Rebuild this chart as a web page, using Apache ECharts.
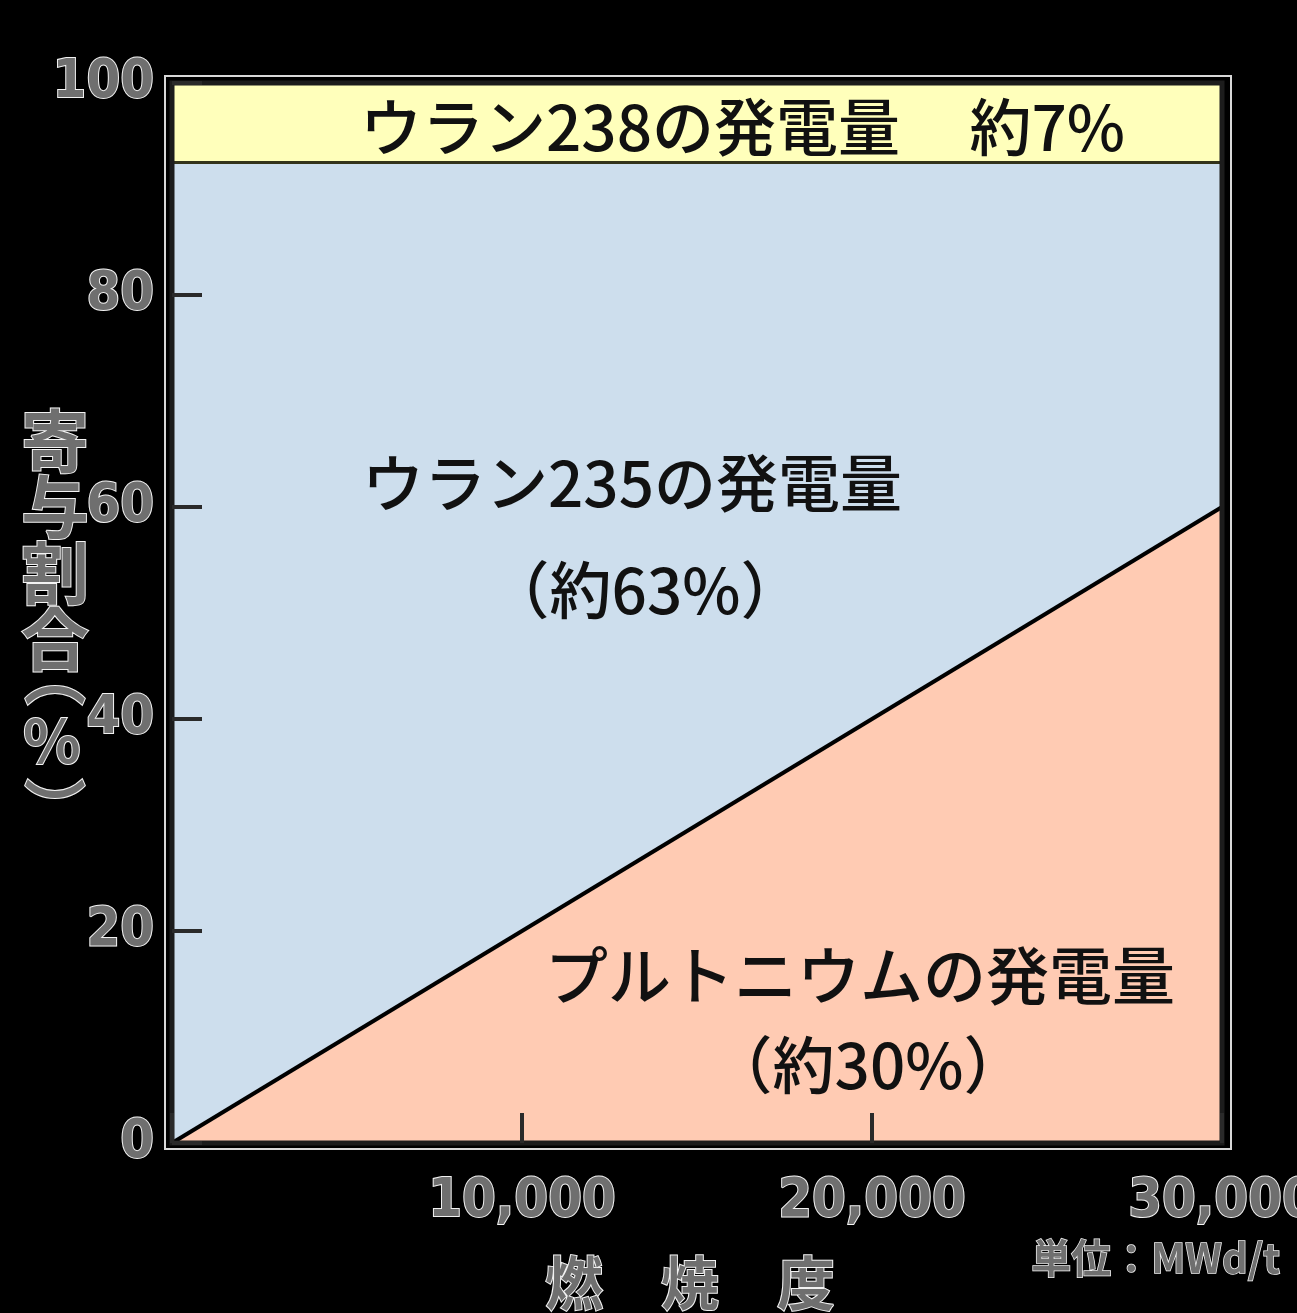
<!DOCTYPE html>
<html>
<head>
<meta charset="utf-8">
<script src="https://cdn.jsdelivr.net/npm/echarts@6/dist/echarts.min.js"></script>
<style>
html,body{margin:0;padding:0;background:#000;}
#chart{width:1297px;height:1313px;}
</style>
</head>
<body>
<div id="chart"></div>
<script>
// ---- data ----
const burnup = [0, 30000];            // MWd/t
const plutoniumShare = [0, 60];       // % (top of Pu area)
const u235Top = [92.5, 92.5];         // % (top of U-235 area)
const u238Top = [100, 100];           // % (top of U-238 band)
const yTicks = [0, 20, 40, 60, 80, 100];
const xTicks = [10000, 20000, 30000];

const yAxisTitle = ['寄', '与', '割', '合'];
const yAxisUnit = ['︵', '%', '︶'];
const xAxisTitle = '燃　焼　度';
const unitText = '単位：MWd/t';
const labelU238 = 'ウラン238の発電量';
const labelU238Pct = '約7%';
const labelU235 = 'ウラン235の発電量';
const labelU235Pct = '（約63%）';
const labelPu = 'プルトニウムの発電量';
const labelPuPct = '（約30%）';

const narrow = "'Liberation Sans Narrow','DejaVu Sans Condensed','Liberation Sans',sans-serif";
const jp = "'Noto Sans CJK JP','Noto Sans CJK SC',sans-serif";

function pts(xs, ys){ return xs.map((x,i)=>[x, ys[i]]); }

const outlined = {
  color:'#6f6f6f', textBorderColor:'#f2f2f2', textBorderWidth:2
};
const outlinedG = {fill:'#6f6f6f', stroke:'#f2f2f2', lineWidth:2};

const chart = echarts.init(document.getElementById('chart'), null, {renderer:'canvas'});
chart.setOption({
  backgroundColor:'#000',
  animation:false,
  grid:{left:172, right:75, top:83, bottom:170, outerBoundsMode:'none', containLabel:false,
        show:true, borderColor:'#1c1c1c', borderWidth:5, backgroundColor:'transparent', z:5},
  xAxis:{
    type:'value', min:0, max:30000, interval:10000, z:10,
    axisLine:{show:false},
    axisTick:{show:true, inside:true, length:30, lineStyle:{color:'#2a2a2a', width:4}},
    splitLine:{show:false},
    axisLabel:{
      show:true, margin:32, fontFamily:narrow, fontSize:54, fontWeight:'bold',
      ...outlined,
      formatter:v => v === 0 ? '' : v.toLocaleString('en-US')
    }
  },
  yAxis:{
    type:'value', min:0, max:100, interval:20, z:10,
    axisLine:{show:false},
    axisTick:{show:true, inside:true, length:30, lineStyle:{color:'#2a2a2a', width:4}},
    splitLine:{show:false},
    axisLabel:{
      show:true, margin:18, fontFamily:narrow, fontSize:54, fontWeight:'bold',
      ...outlined
    }
  },
  series:[
    {type:'line', data:pts(burnup, u238Top), symbol:'none', z:1,
     lineStyle:{width:0}, areaStyle:{color:'#ffffbb', opacity:1}},
    {type:'line', data:pts(burnup, u235Top), symbol:'none', z:2,
     lineStyle:{color:'#33331a', width:3}, areaStyle:{color:'#cddeed', opacity:1}},
    {type:'line', data:pts(burnup, plutoniumShare), symbol:'none', z:3,
     lineStyle:{color:'#000', width:4}, areaStyle:{color:'#ffcbb3', opacity:1}}
  ],
  graphic:[
    {type:'rect', shape:{x:165, y:76, width:1066, height:1073}, style:{fill:'none', stroke:'#d8d8d8', lineWidth:2}, z:-1},
    {type:'text', x:55, y:408, z:10, style:{text:yAxisTitle.join('\n'), font:"bold 68px "+jp, lineHeight:66, textAlign:'center', textVerticalAlign:'top', ...outlinedG}},
    {type:'text', x:55, y:676, z:10, style:{text:yAxisUnit[0], font:"bold 62px "+jp, textAlign:'center', textVerticalAlign:'middle', ...outlinedG}},
    {type:'text', x:52, y:740, z:10, style:{text:yAxisUnit[1], font:"bold 60px "+jp, textAlign:'center', textVerticalAlign:'middle', ...outlinedG}},
    {type:'text', x:55, y:808, z:10, style:{text:yAxisUnit[2], font:"bold 62px "+jp, textAlign:'center', textVerticalAlign:'middle', ...outlinedG}},
    {type:'text', x:690, y:1254, z:10, style:{text:xAxisTitle, font:"bold 58px "+jp, textAlign:'center', textVerticalAlign:'top', ...outlinedG}},
    {type:'text', x:1280, y:1238, z:10, style:{text:unitText, font:"bold 40px "+jp, textAlign:'right', textVerticalAlign:'top', fill:'#6f6f6f', stroke:'#f2f2f2', lineWidth:1.5}},
    {type:'text', x:360, y:127, z:10, style:{text:labelU238, font:"500 62px "+jp, textAlign:'left', textVerticalAlign:'middle', fill:'#111'}},
    {type:'text', x:1125, y:127, z:10, style:{text:labelU238Pct, font:"500 62px "+jp, textAlign:'right', textVerticalAlign:'middle', fill:'#111'}},
    {type:'text', x:632, y:483, z:10, style:{text:labelU235, font:"500 62px "+jp, textAlign:'center', textVerticalAlign:'middle', fill:'#111'}},
    {type:'text', x:645, y:590, z:10, style:{text:labelU235Pct, font:"500 62px "+jp, textAlign:'center', textVerticalAlign:'middle', fill:'#111'}},
    {type:'text', x:860, y:975, z:10, style:{text:labelPu, font:"500 63px "+jp, textAlign:'center', textVerticalAlign:'middle', fill:'#111'}},
    {type:'text', x:868, y:1065, z:10, style:{text:labelPuPct, font:"500 62px "+jp, textAlign:'center', textVerticalAlign:'middle', fill:'#111'}}
  ]
});
</script>
</body>
</html>
